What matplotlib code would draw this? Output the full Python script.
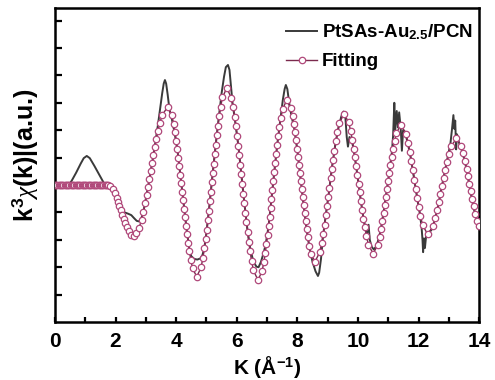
import matplotlib
matplotlib.use('Agg')
import matplotlib.pyplot as plt

plt.rcParams['font.family'] = ['Liberation Sans', 'DejaVu Sans']
plt.rcParams['mathtext.fontset'] = 'custom'
plt.rcParams['mathtext.rm'] = 'Liberation Sans'
plt.rcParams['mathtext.bf'] = 'Liberation Sans:bold'
plt.rcParams['mathtext.it'] = 'Liberation Serif:italic'

# experimental k^3 chi(k) (dark line)
k_exp = [0.0, 0.45, 0.55, 0.7, 0.85, 0.95, 1.05, 1.15, 1.3, 1.45, 1.6, 1.7, 1.8,
         1.9, 2.0, 2.1, 2.2, 2.3, 2.42, 2.52, 2.62, 2.7, 2.78, 2.85, 2.92,
         3.0, 3.1, 3.2, 3.3, 3.4, 3.48, 3.54, 3.59, 3.63, 3.67, 3.72, 3.78,
         3.85, 3.95, 4.05, 4.15, 4.25, 4.35, 4.43, 4.5, 4.6, 4.7, 4.8, 4.87,
         4.93, 5.0, 5.1, 5.2, 5.3, 5.4, 5.5, 5.58, 5.64, 5.71, 5.76, 5.81, 5.86,
         5.95, 6.05, 6.15, 6.25, 6.35, 6.45, 6.55, 6.65, 6.72, 6.8, 6.88,
         6.95, 7.05, 7.15, 7.25, 7.35, 7.45, 7.52, 7.58, 7.62, 7.67, 7.73, 7.8,
         7.9, 8.0, 8.1, 8.2, 8.3, 8.4, 8.5, 8.6, 8.68, 8.72, 8.78,
         8.85, 8.95, 9.05, 9.15, 9.25, 9.35, 9.45, 9.52, 9.58, 9.63, 9.67, 9.72, 9.78,
         9.85, 9.95, 10.05, 10.15, 10.25, 10.3, 10.35, 10.39, 10.45, 10.52, 10.6, 10.66,
         10.75, 10.85, 10.95, 11.05, 11.12, 11.16, 11.2, 11.23, 11.28, 11.32, 11.36,
         11.41, 11.45, 11.49, 11.55,
         11.65, 11.75, 11.85, 11.95, 12.05, 12.1, 12.13, 12.15, 12.18, 12.21, 12.25, 12.3, 12.38,
         12.45, 12.55, 12.65, 12.75, 12.85, 12.95, 13.05, 13.1, 13.15, 13.18, 13.21, 13.24,
         13.27, 13.32, 13.38,
         13.45, 13.55, 13.65, 13.75, 13.85, 13.93, 14.0]
chi_exp = [0.0, 0.0, 0.15, 0.45, 0.78, 0.98, 1.06, 0.98, 0.7, 0.4, 0.1, 0.0, -0.03,
           -0.15, -0.38, -0.65, -0.88, -1.0, -1.05, -1.1, -1.22, -1.31, -1.33, -1.22, -0.98,
           -0.5, 0.1, 0.75, 1.45, 2.2, 2.85, 3.35, 3.7, 3.83, 3.7, 3.3, 2.75,
           2.45, 1.9, 1.2, 0.25, -0.7, -1.65, -2.3, -2.6, -2.7, -2.72, -2.68, -2.55,
           -2.3, -1.75, -0.75, 0.35, 1.4, 2.4, 3.35, 3.95, 4.3, 4.38, 4.2, 3.6, 3.0,
           2.3, 1.45, 0.4, -0.65, -1.6, -2.35, -2.8, -2.98, -3.0, -2.8, -2.5,
           -2.2, -1.5, -0.45, 0.6, 1.6, 2.5, 3.1, 3.5, 3.65, 3.5, 3.0, 2.55,
           2.05, 1.25, 0.3, -0.65, -1.55, -2.3, -2.8, -3.15, -3.32, -3.2, -2.7,
           -1.85, -1.0, -0.2, 0.7, 1.45, 2.05, 2.5, 2.68, 2.55, 1.75, 1.4, 1.75, 1.7,
           1.35, 0.6, -0.2, -1.0, -1.6, -1.75, -1.45, -2.0, -2.25, -2.35, -2.25, -2.05,
           -1.65, -0.95, -0.2, 0.6, 1.2, 1.8, 3.0, 2.0, 2.7, 2.1, 2.65,
           2.1, 1.25, 2.0, 1.95,
           1.5, 0.95, 0.25, -0.45, -1.1, -1.55, -2.0, -2.45, -1.95, -2.3, -1.85, -1.9, -1.7,
           -1.6, -1.2, -0.75, -0.15, 0.4, 0.95, 1.5, 2.0, 2.55, 2.05, 2.35, 1.3,
           1.85, 1.6, 1.4,
           1.2, 0.75, 0.15, -0.45, -1.0, -1.3, -1.5]

# fitting curve: flat start (dense points) then the oscillating part
k_fit_flat = [0.00, 0.04, 0.08, 0.12, 0.16, 0.20, 0.24, 0.28, 0.32, 0.36, 0.40,
              0.44, 0.48, 0.52, 0.56, 0.60, 0.64, 0.68, 0.72, 0.76, 0.80, 0.84,
              0.88, 0.92, 0.96, 1.00, 1.04, 1.08, 1.12, 1.16, 1.20, 1.24, 1.28,
              1.32, 1.36, 1.40, 1.44, 1.48, 1.52, 1.56, 1.60, 1.64, 1.68, 1.72, 1.76]
chi_fit_flat = [0.0] * len(k_fit_flat)

k_fit_osc = [1.830, 1.908, 1.978, 2.033, 2.083, 2.130, 2.175, 2.220, 2.267, 2.317, 2.372, 2.442, 2.520, 2.60,
             2.690, 2.780, 2.858, 2.919, 2.973, 3.023, 3.070, 3.115, 3.160, 3.205, 3.250, 3.297,
             3.347, 3.401, 3.462, 3.540, 3.72,
             3.858, 3.917, 3.963, 4.003, 4.040, 4.074, 4.107, 4.139, 4.169, 4.200, 4.231,
             4.262, 4.293, 4.326, 4.360, 4.397, 4.437, 4.483, 4.542, 4.68,
             4.822, 4.883, 4.931, 4.972, 5.010, 5.045, 5.079, 5.112, 5.143, 5.175, 5.207,
             5.239, 5.271, 5.305, 5.340, 5.378, 5.419, 5.467, 5.528, 5.67,
             5.818, 5.881, 5.931, 5.974, 6.013, 6.050, 6.085, 6.119, 6.152, 6.185, 6.218,
             6.251, 6.285, 6.320, 6.357, 6.396, 6.439, 6.489, 6.552, 6.70,
             6.836, 6.895, 6.941, 6.980, 7.017, 7.051, 7.083, 7.114, 7.145, 7.175, 7.205,
             7.236, 7.267, 7.300, 7.333, 7.370, 7.410, 7.455, 7.514, 7.65,
             7.784, 7.841, 7.886, 7.925, 7.960, 7.993, 8.025, 8.055, 8.085, 8.115, 8.145,
             8.175, 8.205, 8.237, 8.270, 8.306, 8.345, 8.390, 8.447, 8.58,
             8.735, 8.801, 8.854, 8.900, 8.943, 8.983, 9.022, 9.060, 9.098, 9.137, 9.178,
             9.220, 9.266, 9.319, 9.386, 9.54,
             9.695, 9.761, 9.814, 9.860, 9.903, 9.943, 9.982, 10.020, 10.058, 10.097, 10.138,
             10.180, 10.226, 10.279, 10.346, 10.50,
             10.648, 10.712, 10.762, 10.807, 10.847, 10.886, 10.923, 10.960, 10.997, 11.034,
             11.073, 11.113, 11.158, 11.208, 11.272, 11.42,
             11.584, 11.656, 11.713, 11.765, 11.813, 11.860, 11.907, 11.955, 12.007, 12.064,
             12.136, 12.30,
             12.477, 12.554, 12.617, 12.672, 12.724, 12.775, 12.826, 12.878, 12.933, 12.996,
             13.073, 13.25,
             13.408, 13.478, 13.533, 13.583, 13.630, 13.675, 13.720, 13.767, 13.817, 13.873,
             13.942, 14.00]
chi_fit_osc = [-0.040, -0.154, -0.308, -0.463, -0.617, -0.771, -0.925, -1.079, -1.233, -1.388,
               -1.542, -1.696, -1.810, -1.85,
               -1.760, -1.556, -1.263, -0.969, -0.675, -0.381, -0.088, 0.206, 0.500, 0.794, 1.088, 1.381,
               1.675, 1.969, 2.263, 2.556, 2.85,
               2.54, 2.23, 1.92, 1.61, 1.30, 0.99, 0.68, 0.37, 0.06, -0.25, -0.56,
               -0.87, -1.18, -1.49, -1.80, -2.11, -2.42, -2.73, -3.04, -3.35,
               -3.006, -2.661, -2.317, -1.972, -1.628, -1.283, -0.939, -0.594, -0.250, 0.095, 0.440,
               0.784, 1.129, 1.473, 1.818, 2.162, 2.507, 2.851, 3.196, 3.54,
               3.190, 2.839, 2.489, 2.138, 1.788, 1.437, 1.087, 0.736, 0.386, 0.035, -0.316,
               -0.666, -1.017, -1.367, -1.718, -2.068, -2.419, -2.769, -3.120, -3.47,
               -3.142, -2.813, -2.485, -2.156, -1.828, -1.499, -1.171, -0.842, -0.514, -0.185, 0.144,
               0.472, 0.801, 1.129, 1.458, 1.786, 2.115, 2.443, 2.772, 3.10,
               2.805, 2.510, 2.215, 1.920, 1.625, 1.330, 1.035, 0.740, 0.445, 0.150, -0.145,
               -0.440, -0.735, -1.030, -1.325, -1.620, -1.915, -2.210, -2.505, -2.80,
               -2.463, -2.125, -1.788, -1.450, -1.113, -0.775, -0.438, -0.100, 0.238, 0.575, 0.913,
               1.250, 1.588, 1.925, 2.263, 2.60,
               2.281, 1.963, 1.644, 1.325, 1.006, 0.688, 0.369, 0.050, -0.269, -0.588, -0.906,
               -1.225, -1.544, -1.863, -2.181, -2.50,
               -2.206, -1.913, -1.619, -1.325, -1.031, -0.738, -0.444, -0.150, 0.144, 0.438,
               0.731, 1.025, 1.319, 1.613, 1.906, 2.20,
               1.867, 1.533, 1.200, 0.867, 0.533, 0.200, -0.133, -0.467, -0.800, -1.133,
               -1.467, -1.80,
               -1.508, -1.217, -0.925, -0.633, -0.342, -0.050, 0.242, 0.533, 0.825, 1.117,
               1.408, 1.70,
               1.425, 1.150, 0.875, 0.600, 0.325, 0.050, -0.225, -0.500, -0.775, -1.050,
               -1.325, -1.49]

x_ticks = [0, 2, 4, 6, 8, 10, 12, 14]
y_ticks = [-4, -3, -2, -1, 0, 1, 2, 3, 4, 5, 6]

fig = plt.figure(figsize=(4.95, 3.8), dpi=100)
ax = fig.add_axes([0.111, 0.1526, 0.857, 0.8264])

ax.plot(k_exp, chi_exp, color='#3a3a3a', lw=1.4, label='PtSAs-Au$_{\\mathbf{2.5}}$/PCN', zorder=2)
ax.plot(k_fit_flat + k_fit_osc, chi_fit_flat + chi_fit_osc, color='#7b2a4d', lw=1.0,
        marker='o', markersize=4.6, markerfacecolor='white', markeredgecolor='#b0487a',
        markeredgewidth=0.9, label='Fitting', zorder=3)

ax.set_xlim(0, 14)
ax.set_ylim(-5.0, 6.46)
ax.set_xticks(x_ticks)
ax.set_xticks(range(0, 15), minor=True)
ax.set_yticks(y_ticks)
ax.set_yticklabels([])

for s in ax.spines.values():
    s.set_linewidth(1.8)
ax.tick_params(axis='x', which='both', direction='in', length=3.8, width=1.6,
               labelsize=15, pad=7, top=False)
ax.tick_params(axis='y', which='both', direction='in', length=5, width=1.6, right=False)
for lab in ax.get_xticklabels():
    lab.set_fontweight('bold')

ax.set_xlabel('K (Å$^{\\mathbf{-1}}$)', fontsize=15, fontweight='bold', labelpad=2)
ax.set_ylabel('k$^{\\mathbf{3}}\\chi$(k)|(a.u.)', fontsize=18, fontweight='bold')
ax.yaxis.set_label_coords(-0.035, 0.53)

ax.legend(loc='upper right', bbox_to_anchor=(1.0, 0.975), frameon=False,
          prop={'weight': 'bold', 'size': 13.5},
          handlelength=1.65, handletextpad=0.25, labelspacing=0.6,
          borderpad=0.35, borderaxespad=0.0)

fig.savefig('out.png', dpi=100)
